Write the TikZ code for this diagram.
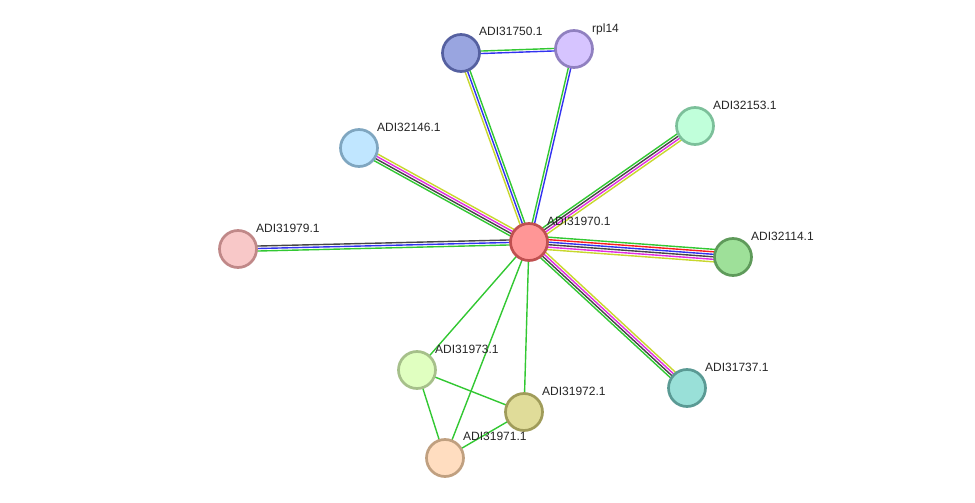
\documentclass[tikz,border=0pt]{standalone}
\usepackage{fontspec}
\setmainfont{Liberation Sans}
\usetikzlibrary{calc}
\definecolor{eg}{RGB}{50,200,50}
\definecolor{er}{RGB}{250,30,30}
\definecolor{eb}{RGB}{50,50,240}
\definecolor{ek}{RGB}{70,70,70}
\definecolor{em}{RGB}{225,45,225}
\definecolor{ey}{RGB}{200,215,45}
\tikzset{
  prot/.style={circle, minimum size=37, inner sep=0, line width=2.7},
  lab/.style={anchor=base west, inner sep=0, font=\fontsize{12}{14}\selectfont, text=black!85},
}
\newcommand\medge[4]{%
  \foreach \c [count=\i] in {#4} {
    \pgfmathsetmacro\off{((#3+1)/2-\i)*2.5}
    \draw[\c, line width=1.4] ($(#1.center)!\off pt!90:(#2.center)$) -- ($(#2.center)!\off pt!-90:(#1.center)$);
  }%
}
\begin{document}
\begin{tikzpicture}[x=1pt,y=-1pt]
\useasboundingbox[fill=white] (0,0) rectangle (975,503);
% centres
\coordinate (c0) at (529,242);
\coordinate (c1) at (461,53);
\coordinate (c2) at (574,49);
\coordinate (c3) at (359,148);
\coordinate (c4) at (695,126);
\coordinate (c5) at (238,249);
\coordinate (c6) at (733,257);
\coordinate (c7) at (687,388);
\coordinate (c8) at (417,370);
\coordinate (c9) at (524,412);
\coordinate (c10) at (445,458);
% edges
\medge{c1}{c2}{2}{eg,eb}
\medge{c0}{c1}{3}{ey,eb,eg}
\medge{c0}{c2}{2}{eg,eb}
\medge{c0}{c3}{4}{eg,ek,em,ey}
\medge{c0}{c4}{4}{eg,ek,em,ey}
\medge{c0}{c5}{3}{eg,eb,ek}
\medge{c0}{c6}{6}{eg,er,eb,ek,em,ey}
\medge{c0}{c7}{4}{ey,em,ek,eg}
\medge{c0}{c8}{1}{eg}
\medge{c0}{c9}{1}{eg}
\medge{c0}{c10}{1}{eg}
\medge{c8}{c9}{1}{eg}
\medge{c8}{c10}{1}{eg}
\medge{c9}{c10}{1}{eg}
% nodes
\node[prot, fill={rgb,255:red,255;green,150;blue,150}, draw={rgb,255:red,192;green,80;blue,80}] (n0) at (c0) {};
\node[prot, fill={rgb,255:red,153;green,165;blue,224}, draw={rgb,255:red,85;green,96;blue,160}] (n1) at (c1) {};
\node[prot, fill={rgb,255:red,214;green,196;blue,255}, draw={rgb,255:red,144;green,128;blue,192}] (n2) at (c2) {};
\node[prot, fill={rgb,255:red,192;green,230;blue,255}, draw={rgb,255:red,127;green,166;blue,192}] (n3) at (c3) {};
\node[prot, fill={rgb,255:red,192;green,255;blue,218}, draw={rgb,255:red,124;green,192;blue,154}] (n4) at (c4) {};
\node[prot, fill={rgb,255:red,248;green,200;blue,200}, draw={rgb,255:red,192;green,136;blue,136}] (n5) at (c5) {};
\node[prot, fill={rgb,255:red,158;green,224;blue,153}, draw={rgb,255:red,94;green,154;blue,90}] (n6) at (c6) {};
\node[prot, fill={rgb,255:red,153;green,224;blue,216}, draw={rgb,255:red,90;green,154;blue,148}] (n7) at (c7) {};
\node[prot, fill={rgb,255:red,224;green,255;blue,192}, draw={rgb,255:red,166;green,192;blue,138}] (n8) at (c8) {};
\node[prot, fill={rgb,255:red,224;green,220;blue,153}, draw={rgb,255:red,160;green,156;blue,90}] (n9) at (c9) {};
\node[prot, fill={rgb,255:red,255;green,221;blue,192}, draw={rgb,255:red,192;green,160;blue,128}] (n10) at (c10) {};
% labels
\node[lab] (l0) at (547,225.5) {ADI31970.1};
\node[lab] (l1) at (479,35.5) {ADI31750.1};
\node[lab] (l2) at (592,32.5) {rpl14};
\node[lab] (l3) at (377,131.5) {ADI32146.1};
\node[lab] (l4) at (713,109.5) {ADI32153.1};
\node[lab] (l5) at (256,232.5) {ADI31979.1};
\node[lab] (l6) at (751,240.5) {ADI32114.1};
\node[lab] (l7) at (705,371.5) {ADI31737.1};
\node[lab] (l8) at (435,353.5) {ADI31973.1};
\node[lab] (l9) at (542,395.5) {ADI31972.1};
\node[lab] (l10) at (463,440.5) {ADI31971.1};
\end{tikzpicture}
\end{document}
